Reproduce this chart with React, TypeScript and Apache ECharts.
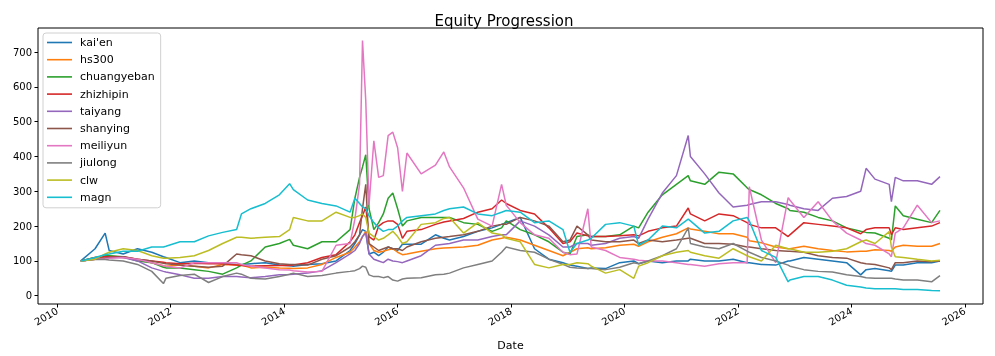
import { useEffect, useRef } from 'react';
import * as echarts from 'echarts';

const dates = [
  '2010-06-01', '2010-09-01', '2010-11-05', '2010-12-01',
  '2011-03-01', '2011-06-01', '2011-09-01', '2011-11-15', '2011-12-01',
  '2012-03-01', '2012-06-01', '2012-09-01', '2012-12-01',
  '2013-03-01', '2013-04-01', '2013-06-01', '2013-09-01', '2013-12-01',
  '2014-02-05', '2014-03-01', '2014-06-01', '2014-09-01', '2014-12-01',
  '2015-03-01', '2015-04-01', '2015-05-01', '2015-05-20', '2015-06-10', '2015-07-01', '2015-08-01',
  '2015-09-01', '2015-10-01', '2015-11-01', '2015-12-01', '2016-01-01', '2016-02-01', '2016-03-01',
  '2016-06-01', '2016-09-01', '2016-10-25', '2016-12-01',
  '2017-03-01', '2017-06-01', '2017-09-01', '2017-11-01', '2017-12-01',
  '2018-03-01', '2018-06-01', '2018-09-01', '2018-12-01',
  '2019-01-15', '2019-03-01', '2019-05-10', '2019-06-01', '2019-09-01', '2019-12-01',
  '2020-03-01', '2020-04-01', '2020-06-01', '2020-09-01', '2020-12-01',
  '2021-02-15', '2021-03-01', '2021-06-01', '2021-09-01', '2021-12-01',
  '2022-03-01', '2022-03-15', '2022-06-01', '2022-09-01', '2022-11-20', '2022-12-01',
  '2023-03-01', '2023-06-01', '2023-09-01', '2023-12-01',
  '2024-03-01', '2024-04-05', '2024-06-01', '2024-09-01', '2024-09-15', '2024-10-10', '2024-12-01',
  '2025-03-01', '2025-06-01', '2025-07-25',
];

const kaien = [
  100, 135, 180, 130, 120, 135, 125, 112, 110, 95, 100, 95, 92, 90, 90, 92, 95, 88, 86, 85, 90, 92, 100,
  130, 150, 175, 190, 185, 120, 125, 115, 125, 140, 135, 130, 148, 148,
  148, 175, 165, 160, 170, 185, 195, 205, 210, 225, 135, 105, 95, 88, 85, 78, 80, 78, 95, 100, 92, 100, 95, 100,
  100, 105, 100, 100, 105, 95, 95, 90, 88, 100, 100, 110, 105, 100, 95, 60, 75, 78, 72, 70, 88, 88, 95, 95, 100,
];
const hs300 = [
  100, 105, 112, 115, 110, 105, 95, 86, 85, 88, 85, 80, 90, 88, 88, 80, 82, 80, 79, 78, 80, 90, 110,
  125, 140, 155, 170, 185, 150, 130, 125, 128, 132, 135, 125, 118, 120,
  128, 135, 137, 138, 140, 145, 160, 165, 168, 160, 145, 130, 115, 125, 135, 138, 135, 138, 145, 148, 142, 155, 168, 178,
  195, 192, 185, 178, 178, 168, 158, 152, 140, 135, 135, 142, 135, 130, 126, 128, 128, 132, 130, 128, 140, 145, 142, 142, 150,
];
const chuangyeban = [
  100, 110, 115, 115, 112, 100, 95, 82, 80, 80, 75, 70, 62, 80, 88, 100, 140, 150, 162, 145, 135, 155, 155,
  190, 280, 340, 370, 405, 250, 190, 210, 235, 280, 295, 250, 200, 215,
  225, 225, 225, 225, 210, 205, 185, 195, 215, 190, 175, 155, 125, 120, 170, 175, 170, 170, 175, 200, 195, 240, 290, 320,
  345, 330, 320, 355, 350, 310, 305, 290, 265, 250, 245, 240, 225, 215, 195, 185, 182, 180, 165, 160, 258, 230, 220, 210, 245,
];
const zhizhipin = [
  100, 110, 112, 112, 112, 105, 100, 96, 95, 92, 93, 92, 92, 88, 87, 85, 86, 87, 87, 88, 95, 110, 118,
  155, 175, 210, 230, 255, 170, 160, 200, 210, 215, 215, 205, 165, 185,
  190, 205, 212, 215, 222, 240, 250, 275, 265, 245, 235, 195, 150, 155, 180, 172, 170, 170, 172, 175, 172, 185, 195, 200,
  252, 235, 215, 235, 230, 210, 205, 195, 195, 170, 175, 210, 205, 200, 195, 178, 190, 195, 195, 175, 195, 190, 195, 200, 210,
];
const taiyang = [
  100, 105, 108, 110, 110, 100, 80, 70, 68, 60, 50, 50, 55, 55, 54, 52, 55, 60, 61, 62, 65, 72, 95,
  120, 130, 150, 170, 180, 120, 105, 100, 95, 105, 100, 98, 95, 100,
  115, 145, 148, 150, 160, 160, 170, 175, 175, 215, 200, 175, 140, 140, 150, 150, 145, 150, 165, 170, 165, 220, 295, 345,
  460, 400, 350, 295, 255, 260, 262, 270, 270, 262, 260, 250, 245, 280, 285, 300, 366, 335, 320, 270, 340, 330, 330, 320, 342,
];
const shanying = [
  100, 105, 108, 110, 112, 105, 100, 93, 92, 88, 85, 82, 85, 120, 118, 115, 100, 92, 90, 90, 88, 105, 115,
  140, 155, 175, 250, 320, 150, 140, 130, 135, 140, 135, 135, 130, 140,
  155, 165, 168, 170, 175, 185, 200, 205, 205, 225, 215, 200, 155, 160, 200, 175, 160, 155, 155, 160, 150, 160, 155, 160,
  165, 165, 150, 150, 148, 140, 140, 135, 130, 128, 128, 125, 115, 110, 108, 95, 92, 90, 80, 75, 95, 95, 100, 98, 100,
];
const meiliyun = [
  100, 105, 106, 108, 110, 105, 95, 86, 85, 80, 95, 95, 95, 95, 90, 85, 80, 75, 74, 72, 68, 70, 145,
  150, 220, 320, 733, 560, 260, 445, 340, 345, 460, 470, 425, 300, 410,
  350, 375, 413, 370, 310, 220, 200, 320, 260, 210, 175, 165, 125, 118, 120, 250, 140, 130, 110, 105, 102, 100, 100, 95,
  90, 90, 85, 92, 95, 95, 313, 160, 95, 282, 275, 225, 270, 215, 180, 160, 150, 145, 120, 112, 180, 195, 260, 210, 215,
];
const jiulong = [
  100, 105, 104, 103, 100, 90, 70, 35, 50, 58, 62, 38, 55, 65, 62, 50, 48, 55, 62, 65, 55, 58, 65,
  70, 72, 78, 85, 82, 60, 55, 55, 52, 55, 45, 42, 48, 50,
  52, 60, 62, 65, 80, 90, 100, 125, 140, 130, 125, 105, 90, 82, 80, 78, 78, 75, 82, 95, 92, 100, 115, 135,
  195, 150, 140, 135, 150, 128, 125, 110, 100, 88, 85, 75, 70, 68, 60, 55, 52, 50, 50, 50, 48, 45, 45, 40, 58,
];
const clw = [
  100, 105, 120, 125, 135, 130, 115, 108, 108, 110, 115, 130, 150, 168, 168, 165, 168, 170, 190, 225, 215, 215, 240,
  225, 225, 230, 235, 225, 180, 170, 160, 165, 175, 185, 170, 150, 155,
  205, 210, 222, 225, 180, 210, 180, 175, 165, 155, 90, 80, 90, 90, 95, 92, 85, 65, 75, 50, 85, 95, 115, 125,
  130, 125, 115, 108, 135, 115, 112, 100, 145, 135, 135, 125, 125, 128, 135, 155, 160, 150, 184, 140, 112, 110, 105, 100, 102,
];
const magn = [
  100, 110, 118, 120, 128, 128, 140, 140, 142, 155, 155, 172, 182, 190, 235, 250, 265, 290, 322, 305, 275, 265, 258,
  240, 280, 265, 255, 250, 230, 210, 195, 185, 190, 190, 200, 215, 225,
  230, 235, 245, 250, 255, 235, 230, 240, 245, 240, 210, 215, 190, 125, 150, 160, 165, 205, 210, 200, 145, 160, 200, 195,
  220, 215, 180, 185, 215, 225, 215, 130, 110, 40, 45, 55, 55, 45, 30, 25, 22, 20, 20, 20, 20, 18, 18, 15, 14,
];

const seriesNames = ["kai'en", 'hs300', 'chuangyeban', 'zhizhipin', 'taiyang', 'shanying', 'meiliyun', 'jiulong', 'clw', 'magn'];
const colors = ['#1f77b4', '#ff7f0e', '#2ca02c', '#d62728', '#9467bd', '#8c564b', '#e377c2', '#7f7f7f', '#bcbd22', '#17becf'];
const xTicks = [2010, 2012, 2014, 2016, 2018, 2020, 2022, 2024, 2026];
const yTicks = [0, 100, 200, 300, 400, 500, 600, 700];

function yearFrac(s: string): number {
  const [y, m, d] = s.split('-').map(Number);
  const t = Date.UTC(y, m - 1, d);
  const t0 = Date.UTC(y, 0, 1);
  const t1 = Date.UTC(y + 1, 0, 1);
  return y + (t - t0) / (t1 - t0);
}

export default function App() {
  const ref = useRef<HTMLDivElement>(null);
  useEffect(() => {
    const chart = echarts.init(ref.current!, null, { renderer: 'svg' });
    const xs = dates.map(yearFrac);
    const values = [kaien, hs300, chuangyeban, zhizhipin, taiyang, shanying, meiliyun, jiulong, clw, magn];
    chart.setOption({
      animation: false,
      textStyle: { fontFamily: 'DejaVu Sans' },
      title: {
        text: 'Equity Progression',
        left: 499,
        top: 8,
        textAlign: 'center',
        textStyle: { fontSize: 15, fontWeight: 'normal', color: '#000', fontFamily: 'DejaVu Sans' },
      },
      legend: {
        orient: 'vertical',
        left: 43,
        top: 33,
        itemWidth: 25,
        itemHeight: 11,
        itemGap: 6.2,
        icon: 'path://M0,0 H25 V1.6 H0 Z',
        padding: [4, 6, 5, 4],
        borderColor: '#d0d0d0',
        borderWidth: 1,
        borderRadius: 3,
        backgroundColor: 'rgba(255,255,255,0.8)',
        textStyle: { fontSize: 11, color: '#000', fontFamily: 'DejaVu Sans', padding: [0, 0, 0, 3] },
        data: seriesNames,
      },
      grid: { left: 38, right: 12, top: 28, bottom: 52, show: true, borderColor: '#000', borderWidth: 1 },
      xAxis: {
        type: 'value',
        min: 2009.66,
        max: 2026.32,
        name: 'Date',
        nameLocation: 'middle',
        nameGap: 36,
        nameTextStyle: { fontSize: 11, color: '#000', fontFamily: 'DejaVu Sans' },
        axisLine: { show: false, onZero: false },
        axisTick: { show: true, customValues: xTicks, length: 3.5, lineStyle: { color: '#000' } },
        axisLabel: {
          customValues: xTicks,
          rotate: 30,
          fontSize: 10,
          color: '#000',
          margin: 6,
          fontFamily: 'DejaVu Sans',
          formatter: (v: number) => String(v),
        },
        splitLine: { show: false },
      },
      yAxis: {
        type: 'value',
        min: -23.7,
        max: 769,
        axisLine: { show: false, onZero: false },
        axisTick: { show: true, customValues: yTicks, length: 3.5, lineStyle: { color: '#000' } },
        axisLabel: {
          customValues: yTicks,
          fontSize: 10,
          color: '#000',
          margin: 6,
          fontFamily: 'DejaVu Sans',
          formatter: (v: number) => String(v),
        },
        splitLine: { show: false },
      },
      series: values.map((v, i) => ({
        type: 'line',
        name: seriesNames[i],
        data: xs.map((x, j) => [x, v[j]]),
        symbol: 'none',
        showSymbol: false,
        lineStyle: { width: 1.5, color: colors[i] },
        itemStyle: { color: colors[i] },
      })),
    });
    return () => chart.dispose();
  }, []);
  return <div ref={ref} style={{ position: 'fixed', left: 0, top: 0, width: 995, height: 356 }} />;
}
